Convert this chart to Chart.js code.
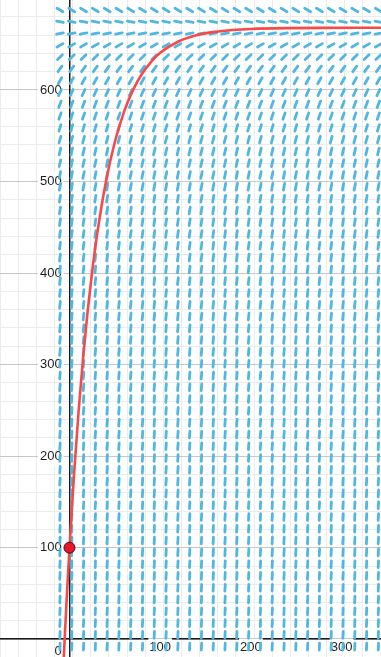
<!DOCTYPE html>
<html>
<head>
<meta charset="utf-8">
<script src="https://cdn.jsdelivr.net/npm/chart.js@4/dist/chart.umd.min.js"></script>
<style>
  html, body { margin: 0; padding: 0; background: #fff; }
  #wrap { width: 381px; height: 657px; }
</style>
</head>
<body>
<div id="wrap"><canvas id="c" width="381" height="657"></canvas></div>
<script>
// Direction field for limited growth toward ~668, with the solution through (0, 100).

// Field sample positions (t) and levels (y); slope depends on the level only.
const fieldColumns = [-10.5, 2.5, 15.5, 28.5, 41.5, 54.5, 67.5, 80.5, 93.5, 106.5, 119.5, 132.5, 145.5, 158.5,
  171.5, 184.5, 197.5, 210.5, 223.5, 236.5, 249.5, 262.5, 275.5, 288.5, 301.5, 314.5, 327.5, 340.5];
const fieldRows = [687.4, 674.5, 661.6, 648.8, 635.9, 623.0, 610.1, 597.2, 584.4, 571.5, 558.6, 545.7, 532.8,
  520.0, 507.1, 494.2, 481.3, 468.4, 455.6, 442.7, 429.8, 416.9, 404.0, 391.2, 378.3, 365.4, 352.5, 339.6,
  326.8, 313.9, 301.0, 288.1, 275.2, 262.4, 249.5, 236.6, 223.7, 210.8, 198.0, 185.1, 172.2, 159.3, 146.4,
  133.6, 120.7, 107.8, 94.9, 82.0, 69.2, 56.3, 43.4, 30.5, 17.6, 4.8, -8.1];
const rowSlopes = [-0.59, -0.20, 0.19, 0.58, 0.97, 1.36, 1.75, 2.14, 2.54, 2.93, 3.32, 3.71, 4.10,
  4.49, 4.88, 5.27, 5.66, 6.05, 6.44, 6.83, 7.22, 7.61, 8.00, 8.39, 8.78, 9.17, 9.56, 9.95,
  10.34, 10.73, 11.12, 11.51, 11.90, 12.29, 12.68, 13.07, 13.46, 13.85, 14.25, 14.64, 15.03, 15.42, 15.81,
  16.20, 16.59, 16.98, 17.37, 17.76, 18.15, 18.54, 18.93, 19.32, 19.71, 20.10, 20.49];

// Solution curve samples
const curveT = [-7, -3.5, 0, 5, 10, 15, 20, 25, 30, 40, 50, 60, 70, 80, 90, 100, 120, 140, 160, 180, 200, 240, 280, 350];
const curveY = [-34.2, 36.4, 100, 179.9, 248.5, 307.4, 358.1, 401.7, 439.1, 499.0, 543.2, 575.8, 599.9, 617.7,
  630.8, 640.6, 653.0, 659.8, 663.5, 665.6, 666.7, 667.6, 667.9, 668.0];

// Initial condition
const startT = [0];
const startY = [100];

// Axis labels
const xTickValues = [100, 200, 300];
const yTickValues = [100, 200, 300, 400, 500, 600];
const originLabel = '0';

const X_MIN = -76.6, X_MAX = 343.4, Y_MIN = -19.4, Y_MAX = 698.3;

const fieldPoints = [];
fieldRows.forEach((y, r) => {
  fieldColumns.forEach(x => fieldPoints.push({ x: x, y: y, m: rowSlopes[r] }));
});
const curvePoints = curveT.map((t, i) => ({ x: t, y: curveY[i] }));
const startPoints = startT.map((t, i) => ({ x: t, y: startY[i] }));

const FONT = { family: "'Liberation Sans', Arial, sans-serif", size: 13 };
const noPad = s => { s.paddingLeft = 0; s.paddingRight = 0; s.paddingTop = 0; s.paddingBottom = 0; };
const gridColor = c => (c.tick && Math.round(c.tick.value) % 100 === 0) ? 'rgb(200,200,200)' : 'rgb(236,236,236)';

const roundCaps = {
  id: 'roundCaps',
  beforeDatasetDraw(chart, args) {
    if (args.index === 2) { chart.ctx.save(); chart.ctx.lineCap = 'round'; }
  },
  afterDatasetDraw(chart, args) {
    if (args.index === 2) chart.ctx.restore();
  }
};

new Chart(document.getElementById('c'), {
  data: {
    datasets: [
      {
        type: 'scatter',
        data: startPoints,
        pointRadius: 5.5,
        pointBackgroundColor: 'rgb(236,22,44)',
        pointBorderColor: 'rgb(70,10,10)',
        pointBorderWidth: 1
      },
      {
        type: 'line',
        data: curvePoints,
        borderColor: 'rgb(246,74,74)',
        borderWidth: 2.6,
        pointRadius: 0,
        fill: false,
        cubicInterpolationMode: 'monotone'
      },
      {
        type: 'scatter',
        data: fieldPoints,
        pointStyle: 'line',
        pointRadius: 3.4,
        pointBorderWidth: 2.8,
        pointBorderColor: 'rgb(80,183,224)',
        pointRotation: ctx => {
          const sx = ctx.chart.scales.x, sy = ctx.chart.scales.y;
          const kx = Math.abs(sx.getPixelForValue(100) - sx.getPixelForValue(0)) / 100;
          const ky = Math.abs(sy.getPixelForValue(100) - sy.getPixelForValue(0)) / 100;
          const m = ctx.raw ? ctx.raw.m : 0;
          return -Math.atan(m * ky / kx) * 180 / Math.PI;
        }
      }
    ]
  },
  options: {
    responsive: false,
    animation: false,
    events: [],
    layout: { padding: 0, autoPadding: false },
    plugins: { legend: { display: false }, tooltip: { enabled: false } },
    scales: {
      x: {
        type: 'linear', axis: 'x', position: { y: 0 }, min: X_MIN, max: X_MAX,
        afterFit: noPad,
        grid: { drawTicks: false, lineWidth: 1, color: gridColor },
        border: { display: true, color: '#1a1a1a', width: 1.5 },
        ticks: { display: false, stepSize: 20, includeBounds: false, autoSkip: false }
      },
      y: {
        type: 'linear', axis: 'y', position: { x: 0 }, min: Y_MIN, max: Y_MAX,
        afterFit: noPad,
        grid: { drawTicks: false, lineWidth: 1, color: gridColor },
        border: { display: true, color: '#1a1a1a', width: 1.5 },
        ticks: { display: false, stepSize: 20, includeBounds: false, autoSkip: false }
      },
      xLabels: {
        type: 'linear', axis: 'x', position: { y: 0 }, min: X_MIN, max: X_MAX, z: 1,
        afterFit: noPad,
        grid: { display: false, drawTicks: false },
        border: { display: false },
        ticks: {
          stepSize: 100, includeBounds: false, autoSkip: false, maxRotation: 0, padding: 0,
          font: FONT, color: '#1e1e1e',
          callback: v => xTickValues.includes(v) ? String(v) : '',
          showLabelBackdrop: true, backdropPadding: 1,
          backdropColor: c => (c.tick && xTickValues.includes(c.tick.value)) ? '#ffffff' : 'rgba(0,0,0,0)'
        }
      },
      yLabels: {
        type: 'linear', axis: 'y', position: { x: -8.6 }, min: Y_MIN, max: Y_MAX, z: 1,
        afterFit: noPad,
        grid: { display: false, drawTicks: false },
        border: { display: false },
        ticks: {
          stepSize: 100, includeBounds: false, autoSkip: false, padding: 0,
          color: '#1e1e1e',
          font: c => (c.tick && c.tick.value === 0) ? Object.assign({}, FONT, { lineHeight: '24px' }) : FONT,
          callback: v => yTickValues.includes(v) ? String(v) : (v === 0 ? ['', originLabel] : ''),
          showLabelBackdrop: true, backdropPadding: 2,
          backdropColor: c => (c.tick && yTickValues.includes(c.tick.value)) ? '#ffffff' : 'rgba(0,0,0,0)'
        }
      }
    }
  },
  plugins: [roundCaps]
});
</script>
</body>
</html>
